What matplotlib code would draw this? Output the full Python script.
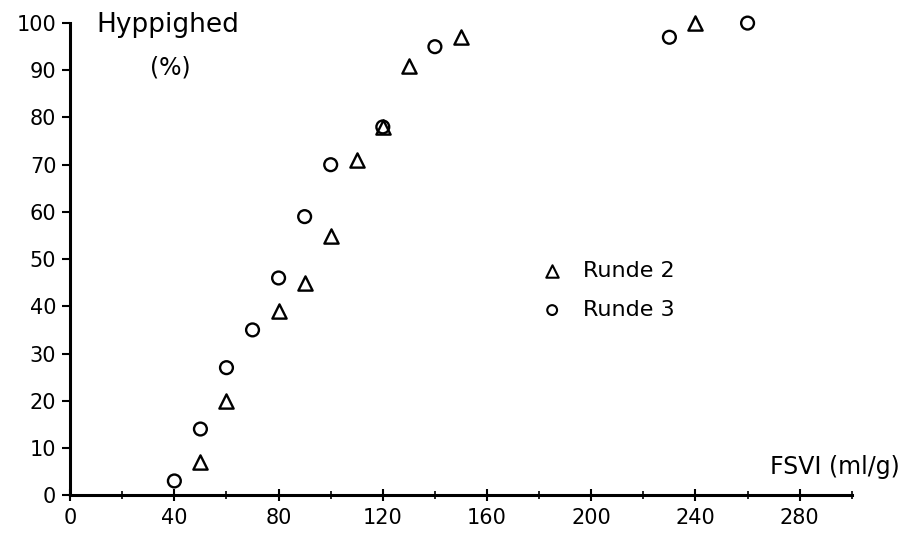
import numpy as np
import matplotlib.pyplot as plt
from matplotlib.ticker import MultipleLocator

# Runde 2 (trekanter)
fsvi_r2 = [50, 60, 80, 90, 100, 110, 120, 130, 150, 240]
hyp_r2 = [7, 20, 39, 45, 55, 71, 78, 91, 97, 100]

# Runde 3 (cirkler)
fsvi_r3 = [40, 50, 60, 70, 80, 90, 100, 120, 140, 230, 260]
hyp_r3 = [3, 14, 27, 35, 46, 59, 70, 78, 95, 97, 100]

x_ticks = [0, 40, 80, 120, 160, 200, 240, 280]
y_ticks = [0, 10, 20, 30, 40, 50, 60, 70, 80, 90, 100]

plt.rcParams['font.family'] = ['DejaVu Sans']

fig = plt.figure(figsize=(9.11, 5.37), dpi=100)
ax = fig.add_axes([0.077, 0.078, 0.858, 0.879])

ax.scatter(fsvi_r2, hyp_r2, marker='^', s=105, facecolors='white',
           edgecolors='black', linewidths=1.7, clip_on=False, zorder=3)
ax.scatter(fsvi_r3, hyp_r3, marker='o', s=85, facecolors='none',
           edgecolors='black', linewidths=1.7, clip_on=False, zorder=3)

ax.set_xlim(0, 300)
ax.set_ylim(0, 100)
ax.set_xticks(x_ticks)
ax.set_yticks(y_ticks)
ax.xaxis.set_minor_locator(MultipleLocator(20))

for side in ['top', 'right']:
    ax.spines[side].set_visible(False)
for side in ['left', 'bottom']:
    ax.spines[side].set_linewidth(2.2)

ax.tick_params(axis='y', direction='out', length=6, width=1.5, labelsize=15, pad=4)
ax.tick_params(axis='x', which='major', direction='inout', length=8, width=1.5,
               labelsize=15, pad=5)
ax.tick_params(axis='x', which='minor', direction='inout', length=6, width=1.2)

# akse-tekster
ax.text(0.034, 0.995, 'Hyppighed', transform=ax.transAxes, fontsize=19,
        ha='left', va='center')
ax.text(0.128, 0.905, '(%)', transform=ax.transAxes, fontsize=17,
        ha='center', va='center')
ax.text(1.062, 0.06, 'FSVI (ml/g)', transform=ax.transAxes, fontsize=17,
        ha='right', va='center')

# forklaring
ax.scatter([185], [47.5], marker='^', s=80, facecolors='white',
           edgecolors='black', linewidths=1.5, clip_on=False)
ax.scatter([185], [39.2], marker='o', s=50, facecolors='none',
           edgecolors='black', linewidths=1.5, clip_on=False)
ax.text(197, 47.5, 'Runde 2', fontsize=16, va='center')
ax.text(197, 39.2, 'Runde 3', fontsize=16, va='center')

fig.savefig('out.png', dpi=100)
